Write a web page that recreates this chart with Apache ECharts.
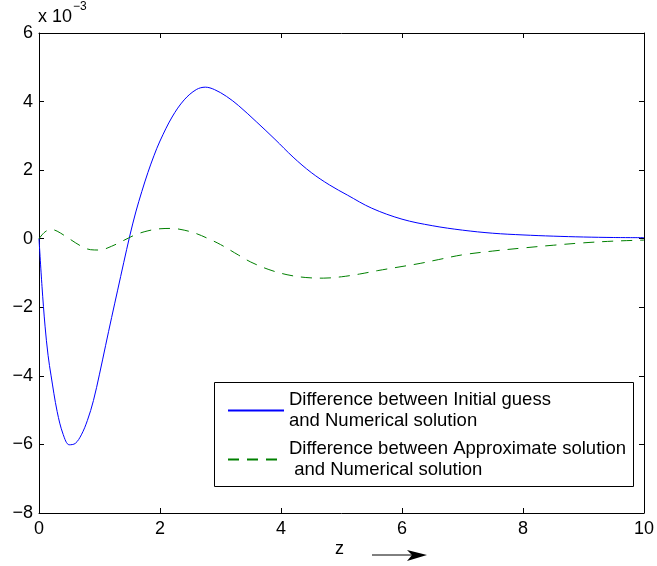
<!DOCTYPE html>
<html>
<head>
<meta charset="utf-8">
<script src="https://cdn.jsdelivr.net/npm/echarts@6/dist/echarts.min.js"></script>
<style>
html,body{margin:0;padding:0;background:#fff;}
#chart{width:657px;height:566px;}
</style>
</head>
<body>
<div id="chart"></div>
<script>
// Data (values in units of 1e-3)
var zBlue = [0, 0.05, 0.1, 0.15, 0.2, 0.3, 0.4, 0.5, 0.6, 0.7, 0.8, 0.9, 1.0, 1.1, 1.2, 1.3, 1.4, 1.5, 1.6, 1.7, 1.8, 1.9, 2.0, 2.2, 2.4, 2.6, 2.75, 2.9, 3.1, 3.3, 3.6, 3.9, 4.2, 4.5, 4.8, 5.1, 5.5, 6.0, 6.5, 7.0, 7.5, 8.0, 8.5, 9.0, 9.5, 10.0];
var yBlue = [0, -1.4, -2.55, -3.4, -4.0, -5.04, -5.71, -6.01, -5.97, -5.72, -5.3, -4.72, -3.95, -3.12, -2.3, -1.5, -0.7, 0.08, 0.78, 1.38, 1.93, 2.42, 2.85, 3.55, 4.05, 4.35, 4.42, 4.35, 4.15, 3.88, 3.4, 2.9, 2.38, 1.93, 1.57, 1.27, 0.89, 0.57, 0.38, 0.25, 0.16, 0.11, 0.075, 0.05, 0.035, 0.03];

var zGreen = [0, 0.1, 0.2, 0.3, 0.5, 0.7, 0.85, 1.0, 1.2, 1.4, 1.6, 1.8, 2.0, 2.2, 2.4, 2.6, 2.8, 3.0, 3.3, 3.5, 3.8, 4.1, 4.4, 4.7, 5.0, 5.3, 5.6, 6.0, 6.3, 6.6, 7.0, 7.5, 8.0, 8.5, 9.0, 9.5, 10.0];
var yGreen = [0, 0.2, 0.27, 0.22, 0.0, -0.22, -0.32, -0.33, -0.22, -0.05, 0.12, 0.23, 0.29, 0.3, 0.25, 0.15, 0.0, -0.17, -0.48, -0.68, -0.9, -1.05, -1.13, -1.15, -1.11, -1.03, -0.93, -0.81, -0.72, -0.61, -0.47, -0.36, -0.27, -0.19, -0.12, -0.07, -0.04];

var xTicks = [0, 2, 4, 6, 8, 10];
var yTicks = [-8, -6, -4, -2, 0, 2, 4, 6];

var seriesNames = [
  'Difference between Initial guess\nand Numerical solution',
  'Difference between Approximate solution\n and Numerical solution'
];

function pairs(xs, ys) { return xs.map(function (x, i) { return [x, ys[i]]; }); }
function fmt(v) { return String(v).replace('-', '\u2212'); }

var FONT = '"Liberation Sans", Arial, Helvetica, sans-serif';
var chart = echarts.init(document.getElementById('chart'), null, {renderer: 'canvas'});

var axisCommon = {
  type: 'value',
  axisLine: {show: true, onZero: false, lineStyle: {color: '#000', width: 1}},
  axisTick: {show: true, inside: true, length: 5, lineStyle: {color: '#000', width: 1}},
  splitLine: {show: false}
};

var option = {
  animation: false,
  backgroundColor: '#fff',
  grid: {left: 39, right: 11, top: 33, bottom: 53, containLabel: false},
  xAxis: [
    Object.assign({}, axisCommon, {
      position: 'bottom', min: xTicks[0], max: xTicks[xTicks.length - 1], interval: 2,
      axisLabel: {show: true, margin: 7, color: '#000', fontSize: 18, fontFamily: FONT, formatter: fmt}
    }),
    Object.assign({}, axisCommon, {
      position: 'top', min: xTicks[0], max: xTicks[xTicks.length - 1], interval: 2,
      axisLabel: {show: false}
    })
  ],
  yAxis: [
    Object.assign({}, axisCommon, {
      position: 'left', min: yTicks[0], max: yTicks[yTicks.length - 1], interval: 2,
      axisLabel: {show: true, margin: 6, color: '#000', fontSize: 18, fontFamily: FONT, formatter: fmt}
    }),
    Object.assign({}, axisCommon, {
      position: 'right', min: yTicks[0], max: yTicks[yTicks.length - 1], interval: 2,
      axisLabel: {show: false}
    })
  ],
  legend: {
    show: true,
    orient: 'vertical',
    left: 214, top: 382,
    padding: [8, 5, 5, 13],
    itemWidth: 56, itemHeight: 14,
    itemGap: 8,
    backgroundColor: 'transparent',
    borderWidth: 0,
    itemStyle: {opacity: 0, color: 'transparent', borderWidth: 0},
    textStyle: {color: '#000', fontSize: 18.5, fontFamily: FONT, lineHeight: 20.5},
    data: seriesNames
  },
  series: [
    {
      name: seriesNames[0], type: 'line', xAxisIndex: 0, yAxisIndex: 0,
      data: pairs(zBlue, yBlue), symbol: 'none', showSymbol: false,
      smooth: 0.35,
      lineStyle: {color: '#0000ff', width: 1}, itemStyle: {color: '#0000ff'}, z: 3
    },
    {
      name: seriesNames[1], type: 'line', xAxisIndex: 0, yAxisIndex: 0,
      data: pairs(zGreen, yGreen), symbol: 'none', showSymbol: false,
      smooth: 0.35,
      lineStyle: {color: '#008000', width: 1, type: [11, 8]}, itemStyle: {color: '#008000'}, z: 3
    }
  ],
  graphic: [
    {type: 'rect', z: 1, zlevel: 0, shape: {x: 214.5, y: 382.5, width: 419, height: 104},
     style: {fill: '#fff', stroke: '#000', lineWidth: 1}},
    {type: 'text', left: 38, top: 8, style: {text: 'x 10', font: '18px ' + FONT, fill: '#000'}},
    {type: 'text', left: 73, top: 1, style: {text: '\u22123', font: '12px ' + FONT, fill: '#000'}},
    {type: 'text', left: 335, top: 540, style: {text: 'z', font: '18px ' + FONT, fill: '#000'}},
    {type: 'line', shape: {x1: 372, y1: 555, x2: 414, y2: 555}, style: {stroke: '#000', lineWidth: 1}},
    {type: 'polygon', shape: {points: [[427, 555], [407, 550], [412, 555], [407, 561]]}, style: {fill: '#000'}}
  ]
};
chart.setOption(option);
</script>
</body>
</html>
